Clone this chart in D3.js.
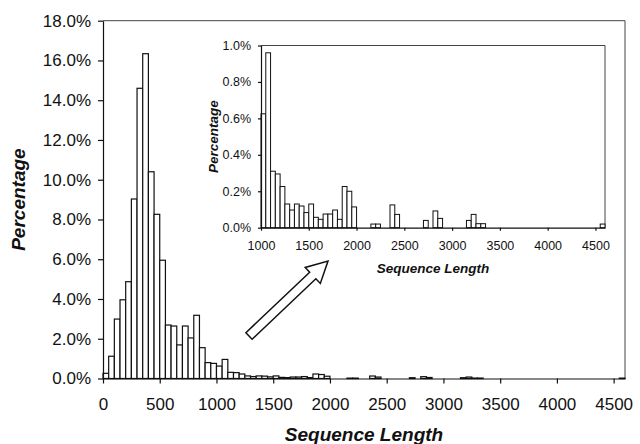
<!DOCTYPE html>
<html><head><meta charset="utf-8">
<script src="https://cdn.jsdelivr.net/npm/d3@7"></script>
<style>body{margin:0;background:#fff}svg{display:block}text{font-family:"Liberation Sans",Arial,sans-serif;fill:#111}</style>
</head><body><svg id="c" width="640" height="444"></svg>
<script>
// Histogram bins (start of 50-unit bin) and percentage of sequences
const binStart = [0,50,100,150,200,250,300,350,400,450,500,550,600,650,700,750,800,850,900,950,
  1000,1050,1100,1150,1200,1250,1300,1350,1400,1450,1500,1550,1600,1650,1700,1750,1800,1850,1900,1950,
  2150,2200,2350,2400,2700,2800,2850,3150,3200,3250,3300,4550];
const pct = [0.26,1.12,2.99,3.96,4.87,9.03,14.6,16.34,10.4,8.26,5.95,2.69,2.64,1.69,2.64,2.04,3.18,1.55,0.8,0.76,
  0.625,0.96,0.31,0.295,0.226,0.13,0.097,0.13,0.119,0.083,0.13,0.057,0.046,0.075,0.075,0.097,0.046,0.226,0.2,0.114,
  0.02,0.02,0.125,0.073,0.04,0.092,0.051,0.04,0.073,0.022,0.022,0.02];
const binWidth = 50;
const mainXTicks = [0,500,1000,1500,2000,2500,3000,3500,4000,4500];
const mainYTicks = [0,2,4,6,8,10,12,14,16,18];
const insetXTicks = [1000,1500,2000,2500,3000,3500,4000,4500];
const insetYTicks = [0,0.2,0.4,0.6,0.8,1.0];
const xTitle = "Sequence Length", yTitle = "Percentage";

const data = binStart.map((b,i)=>({b, v:pct[i]}));
const svg = d3.select("#c");
const ink = "#111";

function panel(opt){
  const g = svg.append("g");
  const x = d3.scaleLinear().domain(opt.xDom).range([opt.l, opt.r]);
  const y = d3.scaleLinear().domain(opt.yDom).range([opt.b, opt.t]);
  // plot border (top/right)
  g.append("path").attr("d",`M${opt.l},${opt.t}H${opt.r}V${opt.b}`)
    .attr("fill","none").attr("stroke","#444").attr("stroke-width",1);
  // bars
  g.selectAll("rect.bar").data(data.filter(d=>d.b>=opt.xDom[0])).join("rect")
    .attr("x",d=>x(d.b)).attr("width",d=>x(d.b+binWidth)-x(d.b))
    .attr("y",d=>y(d.v)).attr("height",d=>y(0)-y(d.v))
    .attr("fill","#fff").attr("stroke",ink).attr("stroke-width",opt.sw);
  // axes
  const xa = g.append("g").attr("transform",`translate(0,${opt.b})`)
    .call(d3.axisBottom(x).tickValues(opt.xTicks).tickSize(opt.tick).tickSizeOuter(0).tickPadding(opt.xPad).tickFormat(d3.format("d")));
  const ya = g.append("g").attr("transform",`translate(${opt.l},0)`)
    .call(d3.axisLeft(y).tickValues(opt.yTicks).tickSize(opt.tick).tickSizeOuter(0).tickPadding(opt.yPad).tickFormat(d=>d3.format(".1f")(d)+"%"));
  [xa,ya].forEach(a=>{
    a.selectAll("path,line").attr("stroke",ink).attr("stroke-width",1.2);
    a.selectAll("text").attr("font-size",opt.fs).attr("font-family",'"Liberation Sans",Arial,sans-serif').attr("fill",ink);
  });
  g.append("text").attr("x",(opt.l+opt.r)/2).attr("y",opt.xtY).attr("text-anchor","middle")
    .attr("font-size",opt.tfs).attr("font-weight","bold").attr("font-style","italic").text(xTitle);
  g.append("text").attr("transform",`translate(${opt.ytX},${(opt.t+opt.b)/2}) rotate(-90)`).attr("text-anchor","middle")
    .attr("font-size",opt.tfs).attr("font-weight","bold").attr("font-style","italic").text(yTitle);
}

panel({xDom:[0,4600], yDom:[0,18], l:103, r:625, t:20.7, b:378.5, xTicks:mainXTicks, yTicks:mainYTicks,
  tick:5, xPad:14, yPad:7, fs:17, tfs:19, xtY:441, ytX:25, sw:1.2});

// arrow
const T=[249,336], P=[328,261];
const dx=P[0]-T[0], dy=P[1]-T[1], L=Math.hypot(dx,dy), ux=dx/L, uy=dy/L, nx=-uy, ny=ux;
const hw=4.5, hh=11, hl=21;
const B=[P[0]-ux*hl, P[1]-uy*hl];
const pts=[[T[0]+nx*hw,T[1]+ny*hw],[B[0]+nx*hw,B[1]+ny*hw],[B[0]+nx*hh,B[1]+ny*hh],P,
  [B[0]-nx*hh,B[1]-ny*hh],[B[0]-nx*hw,B[1]-ny*hw],[T[0]-nx*hw,T[1]-ny*hw]];
svg.append("polygon").attr("points",pts.map(p=>p.join(",")).join(" "))
  .attr("fill","#fff").attr("stroke",ink).attr("stroke-width",1.5).attr("stroke-linejoin","miter");

panel({xDom:[1000,4600], yDom:[0,1.0], l:261, r:605, t:45.5, b:227.7, xTicks:insetXTicks, yTicks:insetYTicks,
  tick:3, xPad:10, yPad:7, fs:12.5, tfs:13.5, xtY:273, ytX:218, sw:1});
</script></body></html>
